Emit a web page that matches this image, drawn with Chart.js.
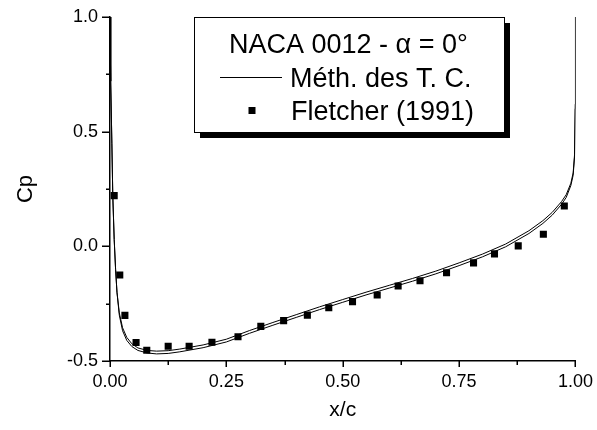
<!DOCTYPE html>
<html>
<head>
<meta charset="utf-8">
<script src="https://cdn.jsdelivr.net/npm/chart.js@4"></script>
<style>
  html, body { margin: 0; padding: 0; background: #fff; }
  canvas { display: block; }
</style>
</head>
<body>
<canvas id="cpChart" width="597" height="430"></canvas>
<script>
/* NACA 0012 pressure coefficient, alpha = 0 deg */

const FONT = "'Liberation Sans', Arial, sans-serif";
const legendTitle = 'NACA 0012 - \u03b1 = 0\u00b0';

// Méth. des T. C. - two surfaces, nearly overlapping
const upperX  = [0, 0.001, 0.002, 0.004, 0.006, 0.009, 0.012, 0.015, 0.02, 0.027, 0.036, 0.047, 0.06, 0.08, 0.1, 0.125, 0.15, 0.2, 0.25, 0.3, 0.35, 0.4, 0.45, 0.5, 0.55, 0.6, 0.65, 0.7, 0.75, 0.8, 0.85, 0.9, 0.93, 0.95, 0.97, 0.98, 0.99, 0.995, 0.998, 0.9995, 1];
const upperCp = [1.0, 0.86, 0.72, 0.45, 0.22, 0.03, -0.10, -0.20, -0.29, -0.355, -0.397, -0.425, -0.443, -0.454, -0.457, -0.455, -0.448, -0.430, -0.405, -0.367, -0.332, -0.298, -0.264, -0.232, -0.200, -0.170, -0.140, -0.108, -0.072, -0.034, 0.010, 0.068, 0.112, 0.148, 0.195, 0.225, 0.275, 0.32, 0.40, 0.62, 1.0];
const lowerX  = [0, 0.001, 0.002, 0.004, 0.006, 0.009, 0.012, 0.015, 0.02, 0.027, 0.036, 0.047, 0.06, 0.08, 0.1, 0.125, 0.15, 0.2, 0.25, 0.3, 0.35, 0.4, 0.45, 0.5, 0.55, 0.6, 0.65, 0.7, 0.75, 0.8, 0.85, 0.9, 0.93, 0.95, 0.97, 0.98, 0.99, 0.995, 0.998, 0.9995, 1];
const lowerCp = [1.0, 0.86, 0.72, 0.45, 0.22, 0.03, -0.10, -0.20, -0.30, -0.368, -0.410, -0.437, -0.454, -0.465, -0.469, -0.467, -0.460, -0.442, -0.417, -0.379, -0.344, -0.310, -0.276, -0.244, -0.212, -0.182, -0.152, -0.120, -0.084, -0.046, -0.002, 0.056, 0.100, 0.136, 0.183, 0.213, 0.265, 0.31, 0.39, 0.60, 1.0];

// Fletcher (1991)
const fletcherX  = [0.009, 0.021, 0.032, 0.056, 0.079, 0.125, 0.170, 0.219, 0.275, 0.324, 0.373, 0.424, 0.470, 0.521, 0.574, 0.619, 0.666, 0.723, 0.781, 0.826, 0.877, 0.931, 0.976];
const fletcherCp = [0.221, -0.125, -0.301, -0.419, -0.453, -0.436, -0.436, -0.418, -0.394, -0.349, -0.324, -0.300, -0.268, -0.241, -0.212, -0.173, -0.150, -0.115, -0.072, -0.033, 0.002, 0.053, 0.176];

// axis ticks (major get labels, minor are short marks)
const xTicks = [0, 0.125, 0.25, 0.375, 0.5, 0.625, 0.75, 0.875, 1];
const yTicks = [-0.5, -0.25, 0, 0.25, 0.5, 0.75, 1];

const toPts = (xs, ys) => xs.map((x, i) => ({ x: x, y: ys[i] }));

// tick marks, outward, long for labelled values
const tickMarks = {
  id: 'tickMarks',
  afterDraw(chart) {
    const c = chart.ctx;
    const xs = chart.scales.x, ys = chart.scales.y;
    const area = chart.chartArea;
    c.save();
    c.strokeStyle = '#000';
    c.lineWidth = 1.5;
    c.beginPath();
    xTicks.forEach((v, i) => {
      const px = Math.round(xs.getPixelForValue(v)) + 0.25;
      const len = i % 2 === 0 ? 6 : 4;
      c.moveTo(px, area.bottom);
      c.lineTo(px, area.bottom + len);
    });
    yTicks.forEach((v, i) => {
      const py = Math.round(ys.getPixelForValue(v)) + 0.25;
      const len = i % 2 === 0 ? 8 : 4;
      c.moveTo(area.left, py);
      c.lineTo(area.left - len, py);
    });
    c.stroke();
    c.restore();
  }
};

// boxed legend with drop shadow
const legendBox = {
  id: 'legendBox',
  afterDraw(chart) {
    const c = chart.ctx;
    const ds = chart.data.datasets;
    c.save();
    c.fillStyle = '#000';
    c.fillRect(200, 23, 310, 115);
    c.fillStyle = '#fff';
    c.fillRect(194, 17, 310, 115);
    c.strokeStyle = '#000';
    c.lineWidth = 1;
    c.strokeRect(194.5, 17.5, 310, 115);

    c.fillStyle = '#000';
    c.font = '27px ' + FONT;
    c.textBaseline = 'alphabetic';
    c.textAlign = 'left';
    c.fillText(legendTitle, 229, 53);
    c.fillText(ds[1].label, 290, 87);
    c.fillText(ds[0].label, 291, 120);

    c.beginPath();
    c.moveTo(220, 77.5);
    c.lineTo(282, 77.5);
    c.lineWidth = 1;
    c.stroke();
    c.fillRect(248.5, 107, 7, 7);
    c.restore();
  }
};

new Chart(document.getElementById('cpChart'), {
  type: 'scatter',
  data: {
    datasets: [
      {
        label: 'Fletcher (1991)',
        data: toPts(fletcherX, fletcherCp),
        pointStyle: 'rect',
        pointRadius: 5,
        borderWidth: 0,
        backgroundColor: '#000',
        showLine: false
      },
      {
        label: 'M\u00e9th. des T. C.',
        data: toPts(upperX, upperCp),
        showLine: true,
        borderColor: '#000',
        borderWidth: 1,
        pointRadius: 0,
        tension: 0
      },
      {
        label: 'lower',
        data: toPts(lowerX, lowerCp),
        showLine: true,
        borderColor: '#000',
        borderWidth: 1,
        pointRadius: 0,
        tension: 0
      }
    ]
  },
  options: {
    responsive: false,
    animation: false,
    layout: { padding: { top: 17, right: 20, left: 0, bottom: 0 } },
    plugins: { legend: { display: false }, tooltip: { enabled: false } },
    scales: {
      x: {
        type: 'linear', min: 0, max: 1,
        afterFit: s => { s.height = 69; },
        border: { display: true, color: '#000', width: 1.5 },
        grid: { display: false, drawTicks: true, tickLength: 6 },
        ticks: {
          stepSize: 0.25, padding: 4, color: '#000', maxRotation: 0, autoSkip: false,
          font: { size: 18, family: FONT },
          callback: v => v.toFixed(2)
        },
        title: { display: true, text: 'x/c', color: '#000', font: { size: 21, family: FONT }, padding: { top: 0, bottom: 7 } }
      },
      y: {
        type: 'linear', min: -0.5, max: 1.0,
        afterFit: s => { s.width = 110; },
        border: { display: true, color: '#000', width: 1.5 },
        grid: { display: false, drawTicks: true, tickLength: 8 },
        ticks: {
          stepSize: 0.5, padding: 4, color: '#000', autoSkip: false,
          font: { size: 18, family: FONT },
          callback: v => v.toFixed(1)
        },
        title: { display: true, text: 'Cp', color: '#000', font: { size: 22, family: FONT }, padding: { top: 13, bottom: 0 } }
      }
    }
  },
  plugins: [tickMarks, legendBox]
});
</script>
</body>
</html>
